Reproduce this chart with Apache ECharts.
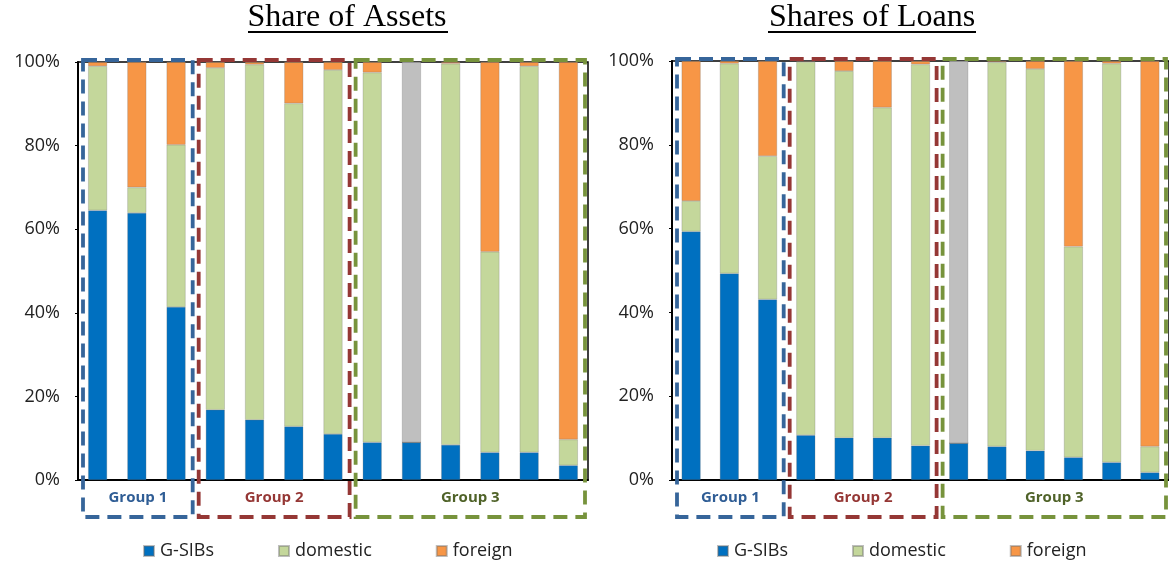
<!DOCTYPE html>
<html>
<head>
<meta charset="utf-8">
<script src="https://cdn.jsdelivr.net/npm/echarts@6/dist/echarts.min.js"></script>
<style>
  html, body { margin: 0; padding: 0; background: #fff; }
  #chart { width: 1169px; height: 561px; }
</style>
</head>
<body>
<div id="chart"></div>
<script>
// bars, left to right (percent)
const categories = ['1', '2', '3', '4', '5', '6', '7', '8', '9', '10', '11', '12', '13']
const yTicks = [0, 20, 40, 60, 80, 100]

const assetsGsib = [64.5, 63.9, 41.4, 16.8, 14.4, 12.8, 11.0, 9.0, 9.0, 8.4, 6.6, 6.6, 3.5]
const assetsDomestic = [34.5, 6.1, 38.8, 81.8, 85.0, 77.3, 87.1, 88.5, 0, 91.2, 48.0, 92.4, 6.2]
const assetsForeign = [1.0, 30.0, 19.8, 1.4, 0.6, 9.9, 1.9, 2.5, 0, 0.4, 45.4, 1.0, 90.3]
const assetsOther = [0, 0, 0, 0, 0, 0, 0, 0, 91.0, 0, 0, 0, 0]

const loansGsib = [59.3, 49.3, 43.1, 10.7, 10.1, 10.1, 8.2, 8.8, 8.0, 7.0, 5.4, 4.2, 1.8]
const loansDomestic = [7.3, 50.1, 34.2, 89.1, 87.5, 78.8, 91.0, 0, 91.7, 91.1, 50.3, 95.2, 6.2]
const loansForeign = [33.4, 0.6, 22.7, 0.2, 2.4, 11.1, 0.8, 0, 0.3, 1.9, 44.3, 0.6, 92.0]
const loansOther = [0, 0, 0, 0, 0, 0, 0, 91.2, 0, 0, 0, 0, 0]

const seriesNames = ['G-SIBs', 'domestic', 'foreign']
const groupNames = ['Group 1', 'Group 2', 'Group 3']
const groupRanges = [[0, 2], [3, 6], [7, 12]]

const COLORS = { gsib: '#0070C0', domestic: '#C4D79B', foreign: '#F79646', other: '#BFBFBF' }
const GROUP_LINE = ['#36659A', '#953735', '#77933C']
const GROUP_TEXT = ['#2F5D95', '#953735', '#4F6228']
const FONT = "'Open Sans', sans-serif"

const chart = echarts.init(document.getElementById('chart'), null, { renderer: 'canvas' })

const makeBar = (name, data, color, idx, stack) => ({
  name,
  type: 'bar',
  stack,
  xAxisIndex: idx,
  yAxisIndex: idx,
  barWidth: 19,
  data,
  itemStyle: { color, borderColor: 'rgba(110,110,110,0.45)', borderWidth: 0.6 },
  emphasis: { disabled: true },
})

const makeYAxis = (idx) => ({
  type: 'value',
  gridIndex: idx,
  min: yTicks[0],
  max: yTicks[yTicks.length - 1],
  interval: yTicks[1] - yTicks[0],
  axisLine: { show: true, lineStyle: { color: '#000', width: 2 } },
  axisTick: { show: true, length: 3, lineStyle: { color: '#000' } },
  splitLine: { show: false },
  axisLabel: { formatter: '{value}%', color: '#222', fontSize: 18, fontFamily: FONT, margin: 18 },
})

const makeXAxis = (idx) => ({
  type: 'category',
  gridIndex: idx,
  data: categories,
  axisLine: { show: true, lineStyle: { color: '#000', width: 2 } },
  axisTick: { show: false },
  axisLabel: { show: false },
})

const makeLegend = (left) => ({
  data: seriesNames,
  left,
  top: 537,
  icon: 'rect',
  itemWidth: 10,
  itemHeight: 10,
  itemGap: 64,
  selectedMode: false,
  textStyle: { fontSize: 18, fontFamily: FONT, color: '#222', padding: [0, 0, 0, 1] },
})

chart.setOption({
  animation: false,
  backgroundColor: '#fff',
  grid: [
    { left: 78, top: 62, width: 510, height: 418, show: true, borderColor: '#000', borderWidth: 1.5 },
    { left: 672, top: 61, width: 501, height: 419, show: true, borderColor: '#000', borderWidth: 1.5 },
  ],
  xAxis: [makeXAxis(0), makeXAxis(1)],
  yAxis: [makeYAxis(0), makeYAxis(1)],
  legend: [makeLegend(138), makeLegend(712)],
  series: [
    makeBar('G-SIBs', assetsGsib, COLORS.gsib, 0, 'assets'),
    makeBar('domestic', assetsDomestic, COLORS.domestic, 0, 'assets'),
    makeBar('foreign', assetsForeign, COLORS.foreign, 0, 'assets'),
    makeBar('other', assetsOther, COLORS.other, 0, 'assets'),
    makeBar('G-SIBs', loansGsib, COLORS.gsib, 1, 'loans'),
    makeBar('domestic', loansDomestic, COLORS.domestic, 1, 'loans'),
    makeBar('foreign', loansForeign, COLORS.foreign, 1, 'loans'),
    makeBar('other', loansOther, COLORS.other, 1, 'loans'),
  ],
})

// dashed group boxes, placed from the category axis
const groupGraphics = (axisIdx) => {
  const c0 = chart.convertToPixel({ xAxisIndex: axisIdx }, categories[0])
  const band = chart.convertToPixel({ xAxisIndex: axisIdx }, categories[1]) - c0
  const yTop = chart.convertToPixel({ yAxisIndex: axisIdx }, 100)
  const yBot = chart.convertToPixel({ yAxisIndex: axisIdx }, 0)
  const out = []
  groupRanges.forEach(([a, b], g) => {
    const x1 = c0 + (a - 0.5) * band + (g === 0 ? 5 : 3)
    const x2 = c0 + (b + 0.5) * band - 3
    out.push({
      type: 'rect',
      shape: { x: x1, y: yTop - 2, width: x2 - x1, height: yBot + 39 - yTop },
      style: { fill: 'none', stroke: GROUP_LINE[g], lineWidth: 3.8, lineDash: [14, 8] },
      z: 10,
    })
    out.push({
      type: 'text',
      x: (x1 + x2) / 2,
      y: yBot + 18,
      style: {
        text: groupNames[g],
        fill: GROUP_TEXT[g],
        font: 'bold 15px ' + FONT,
        textAlign: 'center',
        textVerticalAlign: 'middle',
      },
      z: 10,
    })
  })
  return out
}

const titleGraphics = (text, cx, x1, x2) => [
  {
    type: 'text',
    x: cx,
    y: 18,
    style: {
      text,
      fill: '#000',
      font: "32px 'Liberation Serif', 'Times New Roman', serif",
      textAlign: 'center',
      textVerticalAlign: 'middle',
    },
  },
  {
    type: 'line',
    shape: { x1, y1: 32, x2, y2: 32 },
    style: { stroke: '#000', lineWidth: 2 },
  },
]

chart.setOption({
  graphic: [
    ...groupGraphics(0),
    ...groupGraphics(1),
    ...titleGraphics('Share of Assets', 347, 248, 448),
    ...titleGraphics('Shares of Loans', 872, 768, 976),
  ],
})
</script>
</body>
</html>
